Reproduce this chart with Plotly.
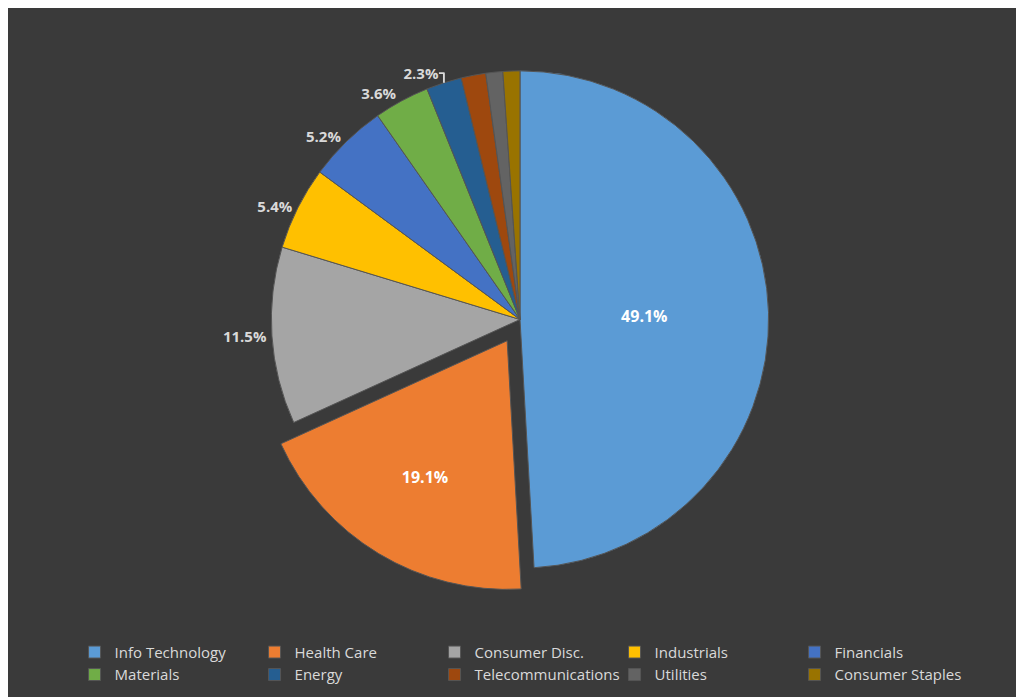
import plotly.graph_objects as go

sectors = ["Info Technology", "Health Care", "Consumer Disc.", "Industrials", "Financials",
           "Materials", "Energy", "Telecommunications", "Utilities", "Consumer Staples"]
weights = [49.1, 19.1, 11.5, 5.4, 5.2, 3.6, 2.3, 1.6, 1.1, 1.1]
labels = ["<b>49.1%</b>", "<b>19.1%</b>", "<b>11.5%</b>", "<b>5.4%</b>", "<b>5.2%</b>",
          "<b>3.6%</b>", "<b>2.3%</b>", "", "", ""]
colors = ["#5B9BD5", "#ED7D31", "#A5A5A5", "#FFC000", "#4472C4",
          "#70AD47", "#255E91", "#9E480E", "#636363", "#997300"]

fig = go.Figure(go.Pie(
    labels=sectors, values=weights, text=labels, textinfo="text",
    textposition=["inside", "inside"] + ["outside"] * 8,
    insidetextorientation="horizontal",
    insidetextfont=dict(color="white", size=16, family="Open Sans"),
    outsidetextfont=dict(color="#d9d9d9", size=15, family="Open Sans"),
    marker=dict(colors=colors, line=dict(color="#555555", width=1)),
    pull=[0, 0.1, 0, 0, 0, 0, 0, 0, 0, 0],
    sort=False, direction="clockwise", rotation=0,
    domain=dict(x=[0.2, 0.8], y=[0.17, 1.0]),
    hoverinfo="label+percent",
))

fig.update_layout(
    width=1024, height=697,
    paper_bgcolor="#3a3a3a", plot_bgcolor="#3a3a3a",
    margin=dict(l=0, r=0, t=0, b=0),
    font=dict(family="Open Sans", color="#d9d9d9"),
    legend=dict(orientation="h", x=0.065, y=0.105, xanchor="left", yanchor="top",
                entrywidth=135, entrywidthmode="pixels",
                font=dict(size=15, color="#d9d9d9"), traceorder="normal"),
)

fig.write_html("out.html")
